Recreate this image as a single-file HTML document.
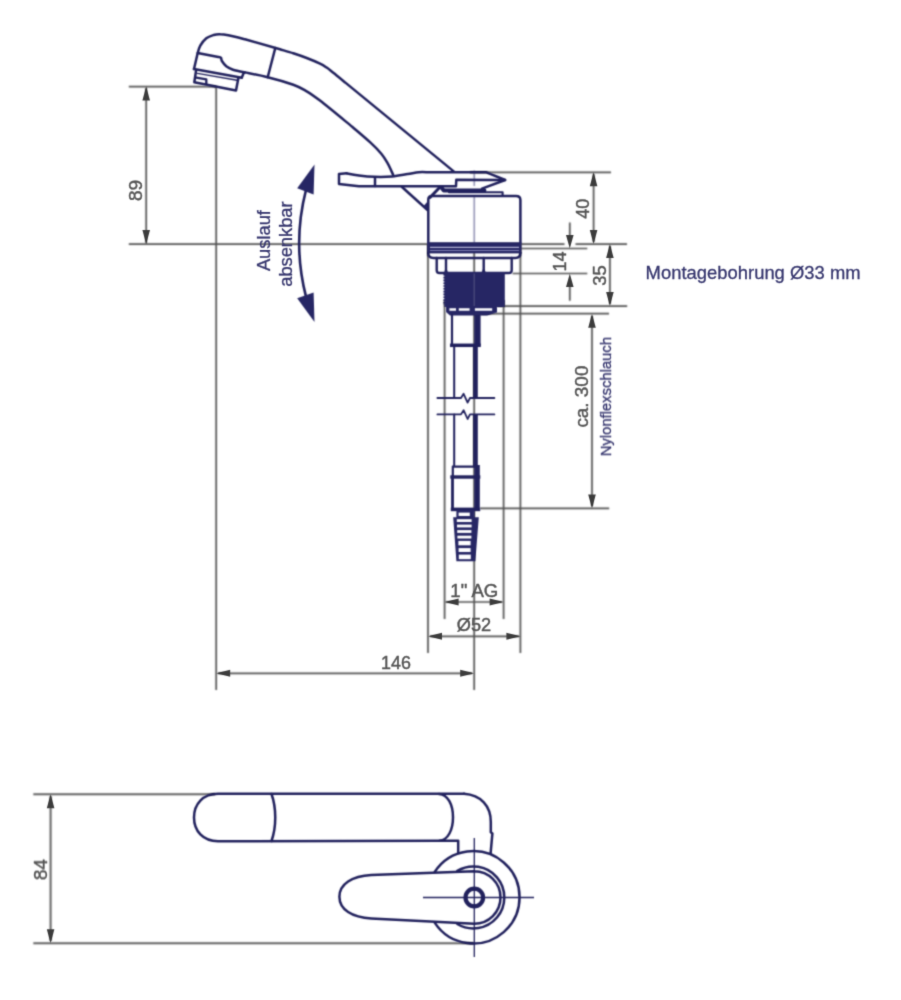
<!DOCTYPE html>
<html>
<head>
<meta charset="utf-8">
<title>Ma&szlig;zeichnung</title>
<style>
html,body{margin:0;padding:0;background:#fff;}
body{width:901px;height:1000px;overflow:hidden;font-family:"Liberation Sans",sans-serif;}
svg{display:block;position:absolute;left:0;top:0;}
svg text{font-family:"Liberation Sans",sans-serif;}
.d{stroke:#505050;stroke-width:1.7;fill:none;}
.a{fill:#3c3c3c;stroke:none;}
.n{stroke:#20205c;stroke-width:2.5;fill:none;stroke-linecap:round;stroke-linejoin:round;}
.nf{fill:#262664;stroke:none;}
.t{fill:#555;font-size:18.6px;stroke:#555;stroke-width:0.45;}
.tn{fill:#36366e;stroke:#36366e;stroke-width:0.3;}
</style>
</head>
<body>
<svg width="901" height="1000" viewBox="0 0 901 1000" class="L1">
<defs>
<filter id="bl" filterUnits="userSpaceOnUse" x="0" y="0" width="901" height="1000" color-interpolation-filters="sRGB"><feConvolveMatrix order="5" kernelMatrix="0.00048 0.00501 0.01095 0.00501 0.00048 0.00501 0.05222 0.11405 0.05222 0.00501 0.01095 0.11405 0.24912 0.11405 0.01095 0.00501 0.05222 0.11405 0.05222 0.00501 0.00048 0.00501 0.01095 0.00501 0.00048" divisor="1" edgeMode="none" preserveAlpha="false"/></filter>
<filter id="bn" filterUnits="userSpaceOnUse" x="0" y="0" width="901" height="1000" color-interpolation-filters="sRGB"><feConvolveMatrix order="5" kernelMatrix="0.00003 0.00101 0.00331 0.00101 0.00003 0.00101 0.03529 0.11525 0.03529 0.00101 0.00331 0.11525 0.37636 0.11525 0.00331 0.00101 0.03529 0.11525 0.03529 0.00101 0.00003 0.00101 0.00331 0.00101 0.00003" divisor="1" edgeMode="none" preserveAlpha="false"/></filter>
<filter id="bt" filterUnits="userSpaceOnUse" x="0" y="0" width="901" height="1000" color-interpolation-filters="sRGB"><feConvolveMatrix order="5" kernelMatrix="0.00000 0.00013 0.00070 0.00013 0.00000 0.00013 0.01910 0.09973 0.01910 0.00013 0.00070 0.09973 0.52080 0.09973 0.00070 0.00013 0.01910 0.09973 0.01910 0.00013 0.00000 0.00013 0.00070 0.00013 0.00000" divisor="1" edgeMode="none" preserveAlpha="false"/></filter>
</defs>
<g class="d" id="dims" filter="url(#bl)">
  <!-- 89 -->
  <path d="M128.8 86.6H216.2"/>
  <path d="M216.2 86.6V690"/>
  <path d="M128.8 244.1H564.5M575.5 244.1H627"/>
  <path d="M146.2 88V243"/>
  <!-- 40 -->
  <path d="M470 172.3H611"/>
  <path d="M593.6 174V242"/>
  <!-- 14 -->
  <path d="M521 248.5H587.3"/>
  <path d="M512.5 273.5H587.3"/>
  <path d="M569.8 222.5V240M569.8 282V300.7"/>
  <!-- 35 -->
  <path d="M609.9 246V304"/>
  <path d="M497 306.1H627.2"/>
  <path d="M481 313.7H609"/>
  <!-- ca 300 -->
  <path d="M592 316V506"/>
  <path d="M480 508.4H609.2"/>
  <!-- vertical extension lines -->
  <path d="M428 244V652.9"/>
  <path d="M520.4 244V652.9"/>
  <path d="M444.6 300V619"/>
  <path d="M503.6 300V619"/>
  <path d="M474.2 246V690"/>
  <path d="M474.2 170.5V186M474.2 196V243" stroke="#55558a" stroke-width="1"/>
  <!-- 1" AG / Ø52 / 146 -->
  <path d="M446 602H502"/>
  <path d="M430 636.3H519"/>
  <path d="M218 673.3H472"/>
  <!-- 84 -->
  <path d="M33.3 794.2H215" stroke-width="2" stroke="#606060"/>
  <path d="M33.3 943.3H474" stroke-width="2.1" stroke="#606060"/>
  <path d="M50.6 796V941" stroke-width="2" stroke="#606060"/>
</g>
</svg>
<svg width="901" height="1000" viewBox="0 0 901 1000" class="L2">
<g class="n" id="side" filter="url(#bn)">
  <!-- spout head + tube outer -->
  <path d="M194 69L197.7 53C198.1 51.8 198.9 48.2 200.3 45.7C201.7 43.2 204.1 40.1 206.3 38.3C208.5 36.5 211.4 35.7 213.7 35.0C216.0 34.3 217.9 34.2 220.3 34.3C222.7 34.3 224.2 34.5 228.3 35.3C232.4 36.1 242.2 38.6 245.0 39.3L280 49.3C282.2 50.0 288.9 51.8 293.3 53.3C297.8 54.8 302.2 56.3 306.7 58.0C311.1 59.7 316.6 62.0 320.0 63.6C323.4 65.2 324.8 66.3 327.0 67.8C329.2 69.3 330.1 70.2 333.3 72.7C336.5 75.2 343.9 81.4 346.0 83.1L454 171.6"/>
  <path d="M245.0 72.4C248.8 73.2 259.6 75.2 267.7 77.2C275.8 79.2 286.8 82.4 293.3 84.7C299.8 87.0 302.2 88.7 306.7 91.3C311.1 93.9 312.4 94.7 320.0 100.6C327.6 106.5 346.8 122.4 352.2 126.8C355.2 129.4 365.1 137.7 370.0 142.2C374.9 146.7 378.5 150.4 381.5 154.0C384.5 157.6 385.8 160.2 387.8 163.7C389.8 167.2 392.4 173.3 393.3 175.2"/>
  <path d="M275.3 48L267.7 77.2"/>
  <path d="M197.7 53L218.3 57C218.8 57.1 220.4 57.1 221.0 57.8C221.6 58.5 221.0 59.6 221.9 61.0C222.8 62.4 224.5 64.8 226.3 66.3C228.2 67.8 229.9 68.7 233.0 69.7C236.1 70.7 243.0 72.0 245.0 72.4L243.7 73L241.7 77.7"/>
  <path d="M194 69L241.7 77.7" stroke-width="2.6"/>
  <path d="M196 71L194.3 82.3L236 90.5L238.5 77.5"/>
  <path d="M197.5 73.3L238.5 80.5" stroke-width="1.3"/>
  <path d="M196.3 77.6L206.3 79.3V84.2" stroke-width="2.3"/>
  <!-- lever -->
  <path d="M346.6 173.3L339 174V183.9L358.9 186.2H456L456.3 179.8L505 180"/>
  <path d="M346.6 173.3C348.7 173.7 354.3 174.8 358.9 175.4C363.5 176.0 368.8 176.6 374.4 176.8C379.9 177.0 386.6 176.9 392.2 176.5C397.8 176.1 403.3 174.8 407.7 174.1C412.1 173.4 415.4 172.5 418.8 172.2C422.2 171.9 426.5 172.2 428.0 172.2H485.9L505.2 180L482 188.6"/>
  <path d="M375 177.3V186"/>
  <!-- under lever -->
  <path d="M402 187L427.5 210"/>
  <path d="M440.3 186.8L430.2 197.3" stroke-width="3"/>
  <path d="M441 187L443.8 190.5H484.4" stroke-width="4"/>
  <path d="M449 192.3H502.6V195.8" stroke-width="2.1"/>
  <path class="nf" d="M423.4 206.2L427.6 201.5V210z"/>
  <!-- body -->
  <path d="M428.3 243V199.5C428.3 197 429.8 195.9 432 195.9H516C519 195.9 520.4 197.3 520.4 200V243"/>
  <rect class="nf" x="427.1" y="242.3" width="94.4" height="11.1"/>
  <path d="M430 247.4H519" stroke="#b4b4d6" stroke-width="1.1" stroke-linecap="butt"/>
  <path d="M430 250.5H519" stroke="#8c8cc0" stroke-width="0.9" stroke-linecap="butt"/>
  <path d="M428.2 253C428.2 256.5 430.5 258 433.5 258H515.2C518.2 258 520.4 256.5 520.4 253"/>
  <!-- nut -->
  <path d="M436.7 258V270.3C436.7 272.3 438 273 439.5 273H443.5C445 273 446 272 446 270.3V258" stroke-width="2.4"/>
  <path d="M446 270.3C446 272.3 447.3 273 448.8 273H481C482.8 273 483.7 272 483.7 270.3V258" stroke-width="2.4"/>
  <path d="M483.7 270.3C483.7 272.3 485 273 486.5 273H509C510.8 273 511.7 272 511.7 270.3V258" stroke-width="2.4"/>
  <!-- thread -->
  <rect class="nf" x="444.4" y="272" width="60.4" height="35"/>
  <path d="M444.2 274V305" stroke-width="1.6" stroke-dasharray="1.6 1.2" stroke-linecap="butt"/>
  <path class="nf" d="M446 306.5H497V312.5L487 315.5H450L446 312z"/>
  <path d="M449.4 309.5H456M458.8 309.5H469.6M474.9 309.5H492.2" stroke="#fff" stroke-width="2.4" stroke-linecap="butt"/>
  <path d="M474.2 273.5V306" stroke="#4c4c7c" stroke-width="1.3" stroke-linecap="butt"/>
  <!-- upper fitting -->
  <path d="M452 315V345.5" stroke-width="2.2"/>
  <path d="M477.4 315V345.5" stroke-width="6.4" stroke-linecap="butt"/>
  <path d="M450 345.3H480.8" stroke-width="3.5" stroke-linecap="butt"/>
  <!-- tube -->
  <path d="M454.2 346V398M454.2 414.4V466" stroke-width="2"/>
  <path d="M475.5 346V398M475.5 414.4V466" stroke-width="4.6" stroke-linecap="butt"/>
  <!-- break lines -->
  <path d="M437.4 398H461L463.6 393.8L467.6 402.6L470 398H494.4" stroke-width="1.8"/>
  <path d="M437.4 414.4H461L463.6 410.2L467.6 419L470 414.4H494.4" stroke-width="1.8"/>
  <!-- lower fitting -->
  <path d="M453 466.6H478M452.8 466.6V476.8" stroke-width="2.2"/>
  <path d="M450.3 477H480.3" stroke-width="3.4" stroke-linecap="butt"/>
  <path d="M452.5 476.8V509.5" stroke-width="2.8"/>
  <path d="M477 465V510.4" stroke-width="5.6" stroke-linecap="butt"/>
  <path d="M450.8 509.4H480.2" stroke-width="3.6" stroke-linecap="butt"/>
  <!-- hose barb -->
  <path class="nf" d="M456.4 510H474.6V517.2H478.8L475.3 561.2H456.4L453.2 517.2H456.4z"/>
  <g fill="#fff" stroke="none"><rect x="458.6" y="512.6" width="11.2" height="3.4"/><rect x="456.8" y="519.2" width="14.8" height="2.8"/><rect x="457.0" y="524.6" width="14.6" height="2.8"/><rect x="457.2" y="530.1" width="14.2" height="2.8"/><rect x="457.4" y="535.7" width="14.0" height="2.8"/><rect x="458.4" y="540.9" width="12.2" height="4.4"/><rect x="458.6" y="548.1" width="12.0" height="3.9"/><rect x="458.8" y="554.6" width="12.0" height="4.6"/></g>
  <!-- arc arrow -->
  <path d="M306 190A214 214 0 0 0 306 296.6" stroke-width="2.6"/>
  <path class="nf" d="M314.5 164.5L297.2 188.2L313.6 194.6z"/>
  <path class="nf" d="M314.5 322.1L297.2 298.3L313.6 292.4z"/>
</g>
<g class="n" id="top" filter="url(#bn)">
  <!-- spout tube -->
  <path d="M464 793.8H218C203 793.8 194 804 194 817.5C194 831 203 841.2 218 841.2L440 840.8H458.2V853"/>
  <path d="M271.5 794C276.5 808 276.5 827 271.5 841"/>
  <path d="M439 794C448 794.5 453 805 453 817.3C453 830 448 840 439.5 840.8"/>
  <!-- elbow -->
  <path d="M464 793.8C481 795 490.8 806 490.8 822V832.2L492.4 833.4L490.6 853.5"/>
  <!-- outer circle -->
  <path d="M434.7 872A46.2 46.2 0 1 1 434.7 922.6"/>
  <!-- handle -->
  <path d="M474.3 871.3L371.3 874.9C352 876 339.4 884 339.4 896.7C339.4 909.5 352 917.5 371.3 918.4L474.3 923.7A26.2 26.2 0 0 0 474.3 871.3"/>
  <path d="M457.3 870.9A31 31 0 1 1 457.3 924"/>
  <!-- knob -->
  <circle cx="474.3" cy="897.5" r="8.8" stroke-width="4.2"/>
  <!-- crosshair -->
  <path d="M423 897.5H534M474.3 838V957" stroke-width="1.3" stroke-linecap="butt"/>
</g>
</svg>
<svg width="901" height="1000" viewBox="0 0 901 1000" class="L3">
<g class="a" id="arrows" filter="url(#bt)">
  <!-- 89 -->
  <path d="M146.2 86.6l-3.8 14h7.6z"/>
  <path d="M146.2 244.1l-3.8 -14h7.6z"/>
  <!-- 40 -->
  <path d="M593.6 172.3l-3.8 14h7.6z"/>
  <path d="M593.6 244.1l-3.8 -14h7.6z"/>
  <!-- 14 -->
  <path d="M569.8 248.5l-3.8 -13.5h7.6z"/>
  <path d="M569.8 273.5l-3.8 13.5h7.6z"/>
  <!-- 35 -->
  <path d="M609.9 244.1l-3.8 14h7.6z"/>
  <path d="M609.9 306.1l-3.8 -14h7.6z"/>
  <!-- ca 300 -->
  <path d="M592 313.7l-3.8 14h7.6z"/>
  <path d="M592 508.4l-3.8 -14h7.6z"/>
  <!-- 1" AG -->
  <path d="M444.6 602l14 -3.5v7z"/>
  <path d="M503.6 602l-14 -3.5v7z"/>
  <!-- Ø52 -->
  <path d="M428 636.3l14 -3.5v7z"/>
  <path d="M520.4 636.3l-14 -3.5v7z"/>
  <!-- 146 -->
  <path d="M216.2 673.3l14 -3.5v7z"/>
  <path d="M474.2 673.3l-14 -3.5v7z"/>
  <!-- 84 -->
  <path d="M50.6 794.2l-3.8 14h7.6z"/>
  <path d="M50.6 943.2l-3.8 -14h7.6z"/>
</g>
<g class="t" id="texts" text-anchor="middle" filter="url(#bt)">
  <text transform="translate(142.4 190.5) rotate(-90)" font-size="19">89</text>
  <text transform="translate(589.2 208.8) rotate(-90)" font-size="17.9">40</text>
  <text transform="translate(565.7 261.6) rotate(-90)" font-size="17.9">14</text>
  <text transform="translate(605.5 275.6) rotate(-90)" font-size="18.3">35</text>
  <text transform="translate(588 396.6) rotate(-90)" font-size="18.9">ca. 300</text>
  <text x="474.3" y="597.4" font-size="18.6">1" AG</text>
  <text x="474" y="631.4" font-size="18.2">&#216;52</text>
  <text x="396" y="669.4" font-size="17.9">146</text>
  <text transform="translate(47 869.6) rotate(-90)" font-size="19">84</text>
</g>
<g class="tn" id="ntexts" text-anchor="middle" filter="url(#bt)">
  <text transform="translate(270 240.6) rotate(-90)" font-size="18.3">Auslauf</text>
  <text transform="translate(291.6 244.1) rotate(-90)" font-size="18.3">absenkbar</text>
  <text transform="translate(611 396.6) rotate(-90)" font-size="14.8">Nylonflexschlauch</text>
  <text x="753.1" y="279" font-size="18.4" textLength="215" lengthAdjust="spacing">Montagebohrung &#216;33 mm</text>
</g>
</svg>

</body>
</html>
